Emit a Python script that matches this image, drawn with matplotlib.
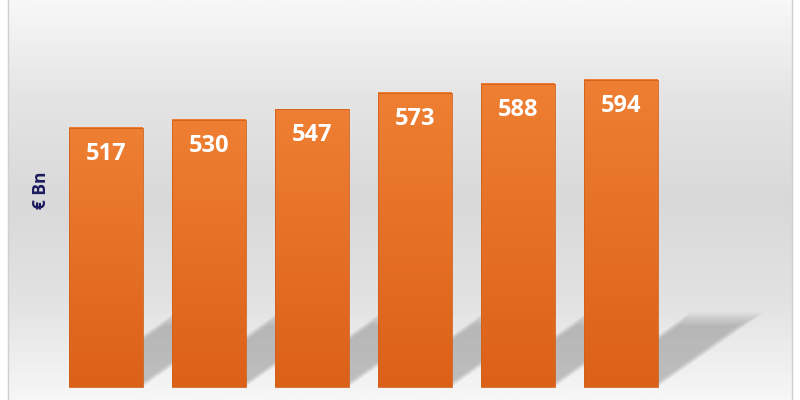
import numpy as np
import matplotlib.pyplot as plt
from matplotlib.patches import Polygon, Rectangle
from matplotlib.colors import LinearSegmentedColormap

# values in € Bn
values = [517, 530, 547, 573, 588, 594]
labels = ['517', '530', '547', '573', '588', '594']
base = 101

fig = plt.figure(figsize=(8, 4), dpi=100)
ax = fig.add_axes([0, 0, 1, 1])
ax.set_xlim(-1.029, 6.738)
ax.set_ylim(80.1, 722)
ax.axis('off')

# panel background: light at top, grey in the middle, light at the bottom
bg = LinearSegmentedColormap.from_list('bg', ['#f8f8f8', '#e4e4e4', '#d9d9d9', '#e2e2e2', '#f7f7f7'])
grad = np.linspace(0, 1, 256).reshape(-1, 1)
ax.imshow(grad, cmap=bg, aspect='auto', extent=(-0.955, 6.660, 80.1, 722), zorder=0)
ax.plot([-0.955, -0.955], [80.1, 722], color='#d0d0d0', lw=1, zorder=1)
ax.plot([6.660, 6.660], [80.1, 722], color='#d0d0d0', lw=1, zorder=1)

w = 0.718
x = np.arange(len(values))

# slanted soft shadows behind the bars
for xi in x:
    for k in range(14):
        s = 1.04 - k * 0.015
        d = k * 0.006
        poly = Polygon([(xi - w / 2 + d, base), (xi + w / 2 - d, base),
                        (xi + w / 2 - d + 1.0 * s, base + 116 * s),
                        (xi - w / 2 + d + 1.0 * s, base + 116 * s)],
                       closed=True, color='#8a8a8a', alpha=0.045, lw=0, zorder=2)
        ax.add_patch(poly)

# orange bars with a vertical gradient
orange = LinearSegmentedColormap.from_list('or', ['#dc6118', '#ee7f33'])
bars = ax.bar(x, np.array(values) - base, bottom=base, width=w, color='none', zorder=3)
for b in bars:
    x0, y0 = b.get_x(), b.get_y()
    ax.imshow(grad, cmap=orange, aspect='auto', origin='lower',
              extent=(x0, x0 + b.get_width(), y0, y0 + b.get_height()), zorder=3)
    ax.add_patch(Rectangle((x0, y0), b.get_width(), b.get_height(),
                           fill=False, ec='#d0601c', lw=0.6, zorder=4))

for xi, v, lab in zip(x, values, labels):
    ax.text(xi, v - 42, lab, ha='center', va='center', color='white',
            fontsize=17, fontweight='bold', family='Open Sans', zorder=5)

ax.text(-0.635, 417, '€ Bn', rotation=90, ha='center', va='center',
        color='#1a1a5e', fontsize=12.5, fontweight='bold', family='Open Sans', zorder=5)

fig.savefig('out.png', dpi=100)
